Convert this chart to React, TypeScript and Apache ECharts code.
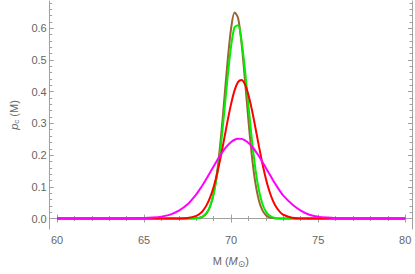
import React, { useEffect, useRef } from "react";
import * as echarts from "echarts";

const massGrid = [
  60, 62, 64, 65, 65.5, 66, 66.5, 67, 67.5,
  68, 68.2, 68.4, 68.6, 68.8, 69, 69.2, 69.4, 69.6, 69.8,
  70, 70.2, 70.4, 70.6, 70.8, 71, 71.2, 71.4, 71.6, 71.8,
  72, 72.2, 72.4, 72.6, 72.8, 73,
  73.5, 74, 74.5, 75, 75.5, 76, 77, 78, 80,
];

const brownValues = [
  0, 0, 0, 0, 0, 0, 0, 0, 0.0001,
  0.0007, 0.0023, 0.0066, 0.0168, 0.0387, 0.0799, 0.1482, 0.247, 0.3696, 0.4967,
  0.5995, 0.6498, 0.6326, 0.553, 0.4342, 0.3062, 0.1939, 0.1102, 0.0563, 0.0258,
  0.0106, 0.0039, 0.0013, 0.0004, 0.0001, 0,
  0, 0, 0, 0, 0, 0, 0, 0, 0,
];

const greenValues = [
  0, 0, 0, 0, 0, 0, 0, 0, 0.0002,
  0.0011, 0.003, 0.0078, 0.0185, 0.0399, 0.0781, 0.1391, 0.2255, 0.3324, 0.4458,
  0.5439, 0.6036, 0.6094, 0.5596, 0.4675, 0.3553, 0.2455, 0.1544, 0.0883, 0.046,
  0.0218, 0.0094, 0.0037, 0.0013, 0.0004, 0.0001,
  0, 0, 0, 0, 0, 0, 0, 0, 0,
];

const redValues = [
  0, 0, 0, 0, 0, 0, 0, 0.0002, 0.0015,
  0.0083, 0.0151, 0.0261, 0.043, 0.0673, 0.1005, 0.143, 0.1939, 0.2505, 0.3083,
  0.3616, 0.4041, 0.4303, 0.4366, 0.4221, 0.3888, 0.3413, 0.2854, 0.2274, 0.1727,
  0.1249, 0.0861, 0.0566, 0.0354, 0.0211, 0.012,
  0.0024, 0.0003, 0, 0, 0, 0, 0, 0, 0,
];

const magentaValues = [
  0, 0.0001, 0.0005, 0.0015, 0.003, 0.006, 0.0125, 0.025, 0.045,
  0.0765, 0.0921, 0.1091, 0.1273, 0.1462, 0.1652, 0.1839, 0.2015, 0.2174, 0.2308,
  0.2414, 0.2484, 0.2518, 0.2512, 0.2467, 0.2385, 0.2271, 0.2128, 0.1964, 0.1784,
  0.1595, 0.1405, 0.1217, 0.1039, 0.0873, 0.0722,
  0.045, 0.025, 0.012, 0.006, 0.003, 0.0012, 0.0003, 0.0001, 0,
];

const xMajorTicks = [60, 65, 70, 75, 80];
const xMinorTicks = [61, 62, 63, 64, 66, 67, 68, 69, 71, 72, 73, 74, 76, 77, 78, 79];
const yMajorTicks = [0, 0.1, 0.2, 0.3, 0.4, 0.5, 0.6];
const yMinorTicks = [
  0.02, 0.04, 0.06, 0.08, 0.12, 0.14, 0.16, 0.18, 0.22, 0.24, 0.26, 0.28,
  0.32, 0.34, 0.36, 0.38, 0.42, 0.44, 0.46, 0.48, 0.52, 0.54, 0.56, 0.58,
  0.62, 0.64, 0.66, 0.68,
];

const seriesDefs = [
  { name: "brown", color: "#996633", values: brownValues },
  { name: "green", color: "#00ee00", values: greenValues },
  { name: "red", color: "#ff0000", values: redValues },
  { name: "magenta", color: "#ff00ff", values: magentaValues },
];

const X_MIN = 59.58;
const X_MAX = 80.39;
const Y_MIN = -0.033;
const Y_MAX = 0.686;

const FONT = '"Liberation Sans", Arial, sans-serif';
const FRAME = "#a0a0a0";
const LABEL = "#666666";

function makeX(position: "bottom" | "top", major: boolean, extra: any = {}) {
  return {
    type: "value",
    position,
    min: X_MIN,
    max: X_MAX,
    axisLine: { show: major, lineStyle: { color: FRAME, width: 1 } },
    axisTick: {
      show: true,
      inside: true,
      length: major ? 4 : 2.5,
      customValues: major ? xMajorTicks : xMinorTicks,
      lineStyle: { color: FRAME, width: 1 },
    },
    axisLabel: { show: false },
    splitLine: { show: false },
    ...extra,
  };
}

function makeY(position: "left" | "right", major: boolean, extra: any = {}) {
  return {
    type: "value",
    position,
    min: Y_MIN,
    max: Y_MAX,
    axisLine: { show: major, lineStyle: { color: FRAME, width: 1 } },
    axisTick: {
      show: true,
      inside: true,
      length: major ? 4 : 2.5,
      customValues: major ? yMajorTicks : yMinorTicks,
      lineStyle: { color: FRAME, width: 1 },
    },
    axisLabel: { show: false },
    splitLine: { show: false },
    ...extra,
  };
}

export default function App() {
  const ref = useRef<HTMLDivElement>(null);
  useEffect(() => {
    document.body.style.margin = "0";
    if (!ref.current) return;
    const chart = echarts.init(ref.current, null, { renderer: "svg" });
    const option: any = {
      animation: false,
      grid: { left: 42, right: 3, top: 1, bottom: 45 },
      xAxis: [
        makeX("bottom", true, {
          axisLabel: {
            show: true,
            customValues: xMajorTicks,
            margin: 5,
            color: LABEL,
            fontSize: 11,
            fontFamily: FONT,
            formatter: (v: number) => String(Math.round(v)),
          },
          name: "{n|M (}{i|M}{s|⊙}{n|)}",
          nameLocation: "middle",
          nameGap: 24,
          nameTextStyle: {
            color: LABEL,
            fontSize: 11,
            fontFamily: FONT,
            rich: {
              n: { color: LABEL, fontSize: 11, fontFamily: FONT },
              i: { color: LABEL, fontSize: 11, fontFamily: FONT, fontStyle: "italic" },
              s: { color: LABEL, fontSize: 9, fontFamily: "DejaVu Sans", padding: [6, 0, 0, 0] },
            },
          },
        }),
        makeX("bottom", false),
        makeX("top", true),
        makeX("top", false),
      ],
      yAxis: [
        makeY("left", true, {
          axisLabel: {
            show: true,
            customValues: yMajorTicks,
            margin: 3,
            color: LABEL,
            fontSize: 11,
            fontFamily: FONT,
            formatter: (v: number) => v.toFixed(1),
          },
          name: "{i|p}{s|c}{n| (M)}",
          nameLocation: "middle",
          nameGap: 28,
          nameTextStyle: {
            color: LABEL,
            fontSize: 11,
            fontFamily: FONT,
            rich: {
              n: { color: LABEL, fontSize: 11, fontFamily: FONT },
              i: { color: LABEL, fontSize: 11, fontFamily: FONT, fontStyle: "italic" },
              s: { color: LABEL, fontSize: 8, fontFamily: FONT, padding: [6, 0, 0, 0] },
            },
          },
        }),
        makeY("left", false),
        makeY("right", true),
        makeY("right", false),
      ],
      series: seriesDefs.map((s, i) => ({
        type: "line",
        name: s.name,
        xAxisIndex: 0,
        yAxisIndex: 0,
        data: massGrid.map((m, k) => [m, s.values[k]]),
        showSymbol: false,
        symbol: "none",
        smooth: 0.3,
        z: 2 + i,
        lineStyle: { color: s.color, width: 2 },
        itemStyle: { color: s.color },
      })),
    };
    chart.setOption(option);
    return () => chart.dispose();
  }, []);
  return <div ref={ref} style={{ width: 415, height: 274 }} />;
}
